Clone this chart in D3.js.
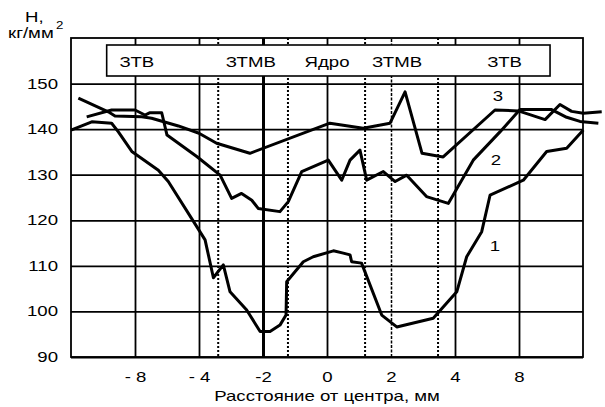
<!DOCTYPE html>
<html>
<head>
<meta charset="utf-8">
<script src="https://cdn.jsdelivr.net/npm/d3@7/dist/d3.min.js"></script>
<style>
  body { margin: 0; background: #fff; }
  text { font-family: "Liberation Sans", Arial, sans-serif; fill: #000; }
</style>
</head>
<body>
<div id="chart"></div>
<script>
// axis: distance from centre, mm (non-uniform grid)
const xKnots = [-12, -8, -4, -2, 0, 2, 4, 8, 12];
const xTicks = [-8, -4, -2, 0, 2, 4, 8];
const xTickLabels = ["- 8", "- 4", "-2", "0", "2", "4", "8"];
const yTicks = [90, 100, 110, 120, 130, 140, 150];

// zones
const zoneBounds = [-3.4, -1.22, 1.19, 3.47];
const zoneNames = ["ЗТВ", "ЗТМВ", "Ядро", "ЗТМВ", "ЗТВ"];
const zoneCenters = [-7.88, -2.38, 0, 2.19, 7.1];
const zoneBoxExtent = [-9.77, 9.94];

// hardness curves, H kg/mm2
const curve1X = [-12, -10.7, -9.46, -9.04, -8.2, -6.54, -5.92, -4.14, -3.81, -3.55, -3.24, -3.03, -2.51, -2.09, -1.78, -1.47, -1.28, -1.26, -0.74, -0.43, 0.2, 0.51, 0.72, 0.77, 1.08, 1.71, 2.18, 3.32, 4.11, 4.73, 5.67, 6.19, 8.27, 9.73, 10.98, 12.02];
const curve1Y = [139.8, 141.6, 141.3, 139.4, 135.1, 131.0, 128.5, 118.6, 115.7, 107.4, 110.2, 104.3, 100.3, 95.6, 95.6, 97.0, 99.2, 106.5, 110.9, 112.0, 113.3, 112.8, 112.4, 110.9, 110.6, 99.2, 96.6, 98.5, 104.3, 112.0, 117.5, 125.5, 128.8, 135.1, 135.8, 139.8];

const curve2X = [-11.02, -9.46, -8.0, -7.38, -7.06, -6.33, -6.0, -4.14, -3.34, -2.98, -2.67, -2.35, -2.15, -1.47, -1.21, -0.79, 0.04, 0.46, 0.72, 1.03, 1.24, 1.76, 2.13, 2.49, 3.11, 3.79, 5.14, 6.81, 8.06, 8.69, 10.04, 10.98, 11.81, 12.96];
const curve2Y = [142.7, 144.2, 144.2, 143.1, 143.6, 143.6, 138.7, 134.0, 129.9, 124.8, 125.9, 124.4, 122.6, 121.9, 124.1, 130.7, 133.2, 128.8, 133.2, 135.4, 128.8, 130.7, 128.5, 129.9, 125.2, 123.7, 133.2, 139.4, 144.3, 144.3, 144.3, 142.6, 141.7, 141.3];

const curve3X = [-11.54, -9.67, -9.25, -7.58, -6.96, -5.29, -4.0, -3.45, -2.41, 0.09, 1.13, 1.97, 2.44, 2.97, 3.63, 6.5, 7.96, 9.63, 10.56, 11.29, 12.02, 13.17];
const curve3Y = [146.8, 143.8, 142.9, 142.7, 142.4, 140.7, 139.1, 136.9, 134.7, 141.3, 140.2, 141.3, 148.2, 134.7, 133.9, 144.2, 144.0, 142.1, 145.4, 143.9, 143.5, 143.8];

const curveNames = ["1", "2", "3"];
const curveLabelX = [6.5, 6.56, 6.69];
const curveLabelY = [114.4, 133.2, 147.3];

// ---------------------------------
const W = 605, H = 407;
const margin = { left: 71, right: 22, top: 38, bottom: 50 };
const plotW = W - margin.left - margin.right;
const plotH = H - margin.top - margin.bottom;
const SX = 1.33; // glyphs in the original are stretched horizontally

const svg = d3.select("#chart").append("svg")
  .attr("width", W)
  .attr("height", H);

const cell = plotW / (xKnots.length - 1);
const xScale = d3.scaleLinear()
  .domain(xKnots)
  .range(xKnots.map((d, i) => margin.left + i * cell));
const yScale = d3.scaleLinear()
  .domain([90, 160])
  .range([margin.top + plotH, margin.top]);

// horizontal grid + y labels
const yAxis = svg.append("g")
  .attr("transform", `translate(${margin.left},0)`)
  .call(d3.axisLeft(yScale).tickValues(yTicks).tickSize(-plotW).tickPadding(0));
yAxis.select(".domain").remove();
yAxis.selectAll(".tick line").attr("stroke", "#000").attr("stroke-width", 1.8);
yAxis.selectAll(".tick text")
  .attr("font-size", 14)
  .attr("transform", `translate(-13,0) scale(${SX},1)`);

// vertical grid + x labels
const xAxis = svg.append("g")
  .attr("transform", `translate(0,${margin.top + plotH})`)
  .call(d3.axisBottom(xScale).tickValues(xTicks).tickSize(-plotH).tickPadding(15)
    .tickFormat((d, i) => xTickLabels[i]));
xAxis.select(".domain").remove();
xAxis.selectAll(".tick line")
  .attr("stroke", "#000")
  .attr("stroke-width", d => d === -2 ? 3 : 1.8)
  .attr("stroke-dasharray", d => d === 2 ? "3,1.5" : null)
  .attr("stroke-width", d => d === -2 ? 3 : d === 2 ? 1.5 : 1.8);
xAxis.selectAll(".tick text")
  .attr("font-size", 14)
  .attr("transform", `scale(${SX},1)`);

// zone boundaries (dotted)
svg.append("g").selectAll("line")
  .data(zoneBounds)
  .join("line")
  .attr("x1", d => xScale(d)).attr("x2", d => xScale(d))
  .attr("y1", margin.top).attr("y2", margin.top + plotH)
  .attr("stroke", "#000")
  .attr("stroke-width", 2)
  .attr("stroke-dasharray", "2,2");

// frame
svg.append("rect")
  .attr("x", margin.left).attr("y", margin.top)
  .attr("width", plotW).attr("height", plotH)
  .attr("fill", "none").attr("stroke", "#000").attr("stroke-width", 1.8);

// zone box
svg.append("rect")
  .attr("x", xScale(zoneBoxExtent[0]))
  .attr("y", 45)
  .attr("width", xScale(zoneBoxExtent[1]) - xScale(zoneBoxExtent[0]))
  .attr("height", 31)
  .attr("fill", "#fff").attr("stroke", "#000").attr("stroke-width", 1.6);

svg.append("g").selectAll("g")
  .data(zoneNames)
  .join("g")
  .attr("transform", (d, i) => `translate(${xScale(zoneCenters[i])},67) scale(${SX},1)`)
  .append("text")
  .attr("text-anchor", "middle")
  .attr("font-size", 14)
  .text(d => d);

// curves
const curves = [
  d3.zip(curve1X, curve1Y),
  d3.zip(curve2X, curve2Y),
  d3.zip(curve3X, curve3Y),
];
const line = d3.line()
  .x(d => xScale(d[0]))
  .y(d => yScale(d[1]));

svg.append("g").selectAll("path")
  .data(curves)
  .join("path")
  .attr("d", line)
  .attr("fill", "none")
  .attr("stroke", "#000")
  .attr("stroke-width", 3)
  .attr("stroke-linejoin", "round");

svg.append("g").selectAll("g")
  .data(curveNames)
  .join("g")
  .attr("transform", (d, i) => `translate(${xScale(curveLabelX[i])},${yScale(curveLabelY[i])}) scale(${SX},1)`)
  .append("text")
  .attr("text-anchor", "middle")
  .attr("dominant-baseline", "central")
  .attr("font-size", 14)
  .text(d => d);

// axis titles
svg.append("g")
  .attr("transform", `translate(25,22) scale(${SX},1)`)
  .append("text").attr("font-size", 14).text("H,");
svg.append("g")
  .attr("transform", `translate(8,38) scale(${SX},1)`)
  .append("text").attr("font-size", 14).text("кг/мм");
svg.append("g")
  .attr("transform", `translate(56,29) scale(${SX},1)`)
  .append("text").attr("font-size", 10).text("2");

svg.append("g")
  .attr("transform", `translate(${xScale(0)},401) scale(${SX},1)`)
  .append("text")
  .attr("text-anchor", "middle")
  .attr("font-size", 14)
  .text("Расстояние от центра, мм");
</script>
</body>
</html>
